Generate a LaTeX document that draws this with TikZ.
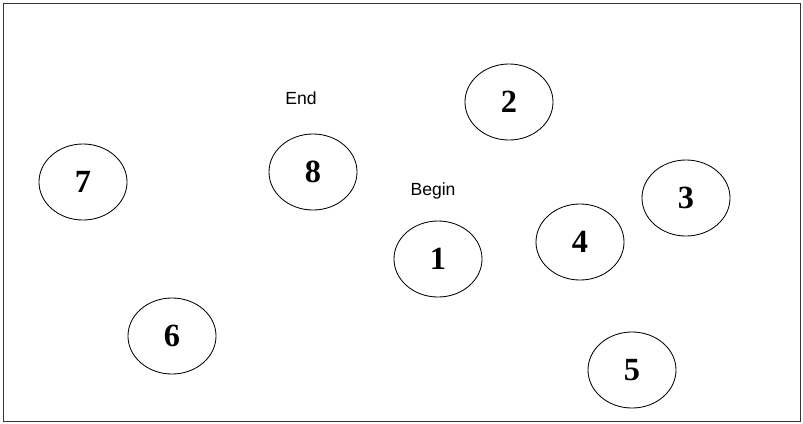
\documentclass[tikz,border=0pt]{standalone}
\usepackage{fontspec}
\setmainfont{Liberation Serif}
\newfontfamily\lblfont{Liberation Sans}
\usetikzlibrary{shapes.geometric}
\tikzset{
  city/.style={ellipse, draw=black, line width=0.6pt, minimum width=2.2cm,
              minimum height=1.9cm, inner sep=0pt, font=\fontsize{23}{26}\selectfont\bfseries},
  lbl/.style={font=\lblfont\fontsize{12.5}{14}\selectfont, inner sep=0pt},
  frame/.style={draw=black!80, line width=0.7pt},
}
\begin{document}
\begin{tikzpicture}[x=0.025cm,y=-0.025cm]
    \useasboundingbox (0,0) rectangle (803,423);
    % outer frame
    \draw[frame] (3,3) rectangle (800,421);

    % the eight places
    \node[city] (n1) at (438,259){1};
    \node[city] (n2) at (509,102){2};
    \node[city] (n3) at (686,198){3};
    \node[city] (n4) at (580,242){4};
    \node[city] (n5) at (632,370){5};
    \node[city] (n6) at (172,336){6};
    \node[city] (n7) at (83,182){7};
    \node[city] (n8) at (313,172){8};

    % start / finish marks
    \node[lbl] (lend) at (301,98){End};
    \node[lbl] (lbegin) at (433,191){Begin};
  \end{tikzpicture}
\end{document}
